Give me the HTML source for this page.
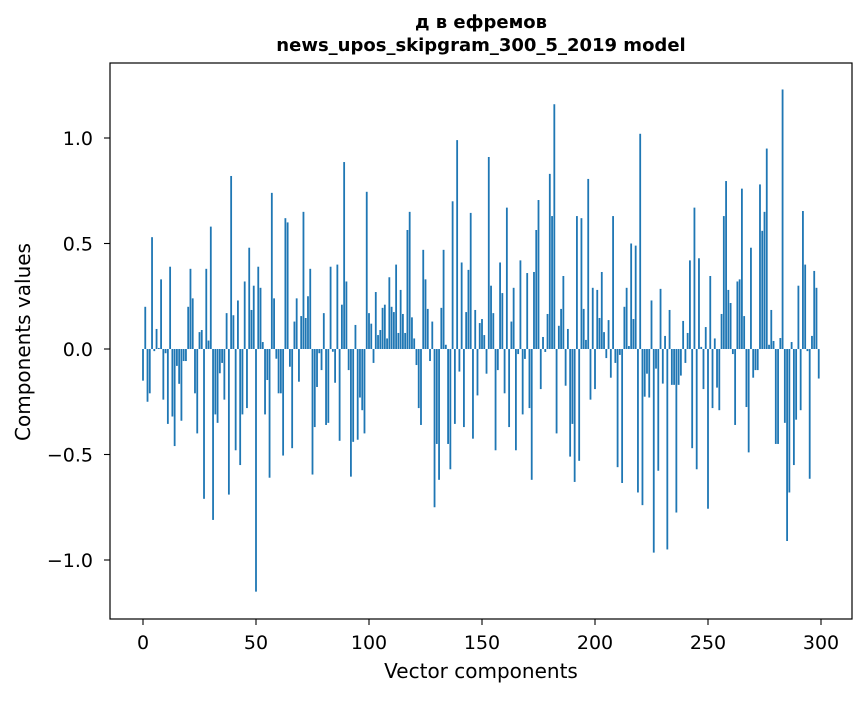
<!DOCTYPE html>
<html><head><meta charset="utf-8"><style>
body{margin:0;background:#fff;}
svg text{font-family:"DejaVu Sans","Liberation Sans",sans-serif;fill:#000;}
</style></head><body>
<svg id="chart" width="867" height="696" viewBox="0 0 867 696" xmlns="http://www.w3.org/2000/svg">
<rect width="867" height="696" fill="#fff"/>
<text x="481" y="28" text-anchor="middle" font-size="18" font-weight="bold">д в ефремов</text>
<text x="481" y="51" text-anchor="middle" font-size="18" font-weight="bold">news_upos_skipgram_300_5_2019 model</text>
<g id="bars"></g>
<g id="axes"></g>
<rect x="110" y="63" width="742" height="556" fill="none" stroke="#000" stroke-width="1.2"/>
<text x="481" y="678" text-anchor="middle" font-size="20">Vector components</text>
<text transform="translate(30,342) rotate(-90)" text-anchor="middle" font-size="20">Components values</text>
</svg>
<script>
const values = [
-0.15,0.20,-0.25,-0.21,0.53,-0.01,0.095,0.005,0.33,-0.24,
-0.02,-0.355,0.39,-0.32,-0.46,-0.08,-0.165,-0.34,-0.057,-0.057,
0.20,0.38,0.24,-0.21,-0.40,0.08,0.09,-0.71,0.38,0.04,
0.58,-0.81,-0.31,-0.35,-0.115,-0.066,-0.24,0.17,-0.69,0.82,
0.16,-0.48,0.23,-0.55,-0.31,0.32,-0.28,0.48,0.185,0.30,
-1.15,0.39,0.29,0.033,-0.31,-0.147,-0.61,0.74,0.24,-0.046,
-0.21,-0.21,-0.505,0.62,0.60,-0.084,-0.47,0.13,0.24,-0.155,
0.156,0.65,0.147,0.25,0.38,-0.595,-0.37,-0.18,-0.02,-0.10,
0.17,-0.36,-0.35,0.39,-0.013,-0.16,0.40,-0.435,0.21,0.886,
0.32,-0.10,-0.605,-0.44,0.114,-0.43,-0.23,-0.29,-0.40,0.745,
0.17,0.12,-0.066,0.27,0.066,0.09,0.195,0.21,0.05,0.34,
0.20,0.175,0.40,0.076,0.28,0.166,0.076,0.564,0.65,0.15,
0.05,-0.076,-0.28,-0.36,0.47,0.33,0.19,-0.057,0.13,-0.75,
-0.45,-0.62,0.195,0.47,0.02,-0.45,-0.57,0.70,-0.355,0.99,
-0.107,0.41,-0.37,0.175,0.375,0.645,-0.425,0.185,-0.22,0.123,
0.142,0.066,-0.117,0.91,0.30,0.17,-0.48,-0.10,0.41,0.265,
-0.21,0.67,-0.37,0.13,0.29,-0.48,-0.024,0.42,-0.31,-0.047,
0.36,-0.28,-0.62,0.365,0.564,0.706,-0.19,0.057,-0.014,0.166,
0.83,0.63,1.16,-0.40,0.11,0.19,0.346,-0.174,0.095,-0.51,
-0.355,-0.63,0.63,-0.53,0.62,0.19,0.043,0.806,-0.24,0.29,
-0.19,0.28,0.147,0.365,0.08,-0.043,0.137,-0.136,0.63,-0.066,
-0.56,-0.028,-0.635,0.20,0.29,0.014,0.50,0.142,0.49,-0.68,
1.02,-0.74,-0.226,-0.117,-0.23,0.23,-0.965,-0.093,-0.577,0.285,
-0.164,0.062,-0.95,0.185,-0.17,-0.17,-0.775,-0.17,-0.126,0.133,
-0.066,0.076,0.42,-0.47,0.67,-0.57,0.43,0.01,-0.19,0.104,
-0.757,0.346,-0.28,0.05,-0.183,-0.29,0.166,0.63,0.796,0.28,
0.218,-0.024,-0.36,0.32,0.33,0.76,0.156,-0.275,-0.49,0.48,
-0.136,-0.10,-0.10,0.78,0.56,0.65,0.95,0.02,0.185,0.038,
-0.45,-0.45,0.052,1.23,-0.35,-0.91,-0.68,0.033,-0.55,-0.335,
0.30,-0.29,0.654,0.40,-0.01,-0.615,0.062,0.37,0.29,-0.14
];
const xTicks = [0,50,100,150,200,250,300];
const yTicks = [-1.0,-0.5,0.0,0.5,1.0];
const yTickLabels = ["\u22121.0","\u22120.5","0.0","0.5","1.0"];

const NS = "http://www.w3.org/2000/svg";
function xScale(v){ return 143 + v * (678/300); }
function yScale(v){ return 349 - v * 211; }

const barsG = document.getElementById('bars');
const bw = 0.8 * 678/300;
values.forEach((v,i)=>{
  const r = document.createElementNS(NS,'rect');
  const y0 = yScale(0), y1 = yScale(v);
  r.setAttribute('x', xScale(i) - bw/2);
  r.setAttribute('y', Math.min(y0,y1));
  r.setAttribute('width', bw);
  r.setAttribute('height', Math.abs(y1-y0));
  r.setAttribute('fill', '#1f77b4');
  
  
  barsG.appendChild(r);
});

const axesG = document.getElementById('axes');
xTicks.forEach(t=>{
  const x = xScale(t);
  const l = document.createElementNS(NS,'line');
  l.setAttribute('x1',x); l.setAttribute('x2',x);
  l.setAttribute('y1',619); l.setAttribute('y2',625);
  l.setAttribute('stroke','#000'); l.setAttribute('stroke-width','1.1');
  
  
  axesG.appendChild(l);
  const tx = document.createElementNS(NS,'text');
  tx.setAttribute('x',x); tx.setAttribute('y',649);
  tx.setAttribute('text-anchor','middle'); tx.setAttribute('font-size','19');
  tx.textContent = String(t);
  
  
  axesG.appendChild(tx);
});
yTicks.forEach((t,i)=>{
  const y = yScale(t);
  const l = document.createElementNS(NS,'line');
  l.setAttribute('x1',104); l.setAttribute('x2',110);
  l.setAttribute('y1',y); l.setAttribute('y2',y);
  l.setAttribute('stroke','#000'); l.setAttribute('stroke-width','1.1');
  
  
  axesG.appendChild(l);
  const tx = document.createElementNS(NS,'text');
  tx.setAttribute('x',93); tx.setAttribute('y',y+7);
  tx.setAttribute('text-anchor','end'); tx.setAttribute('font-size','19');
  tx.textContent = yTickLabels[i];
  
  
  axesG.appendChild(tx);
});
</script>
</body></html>
